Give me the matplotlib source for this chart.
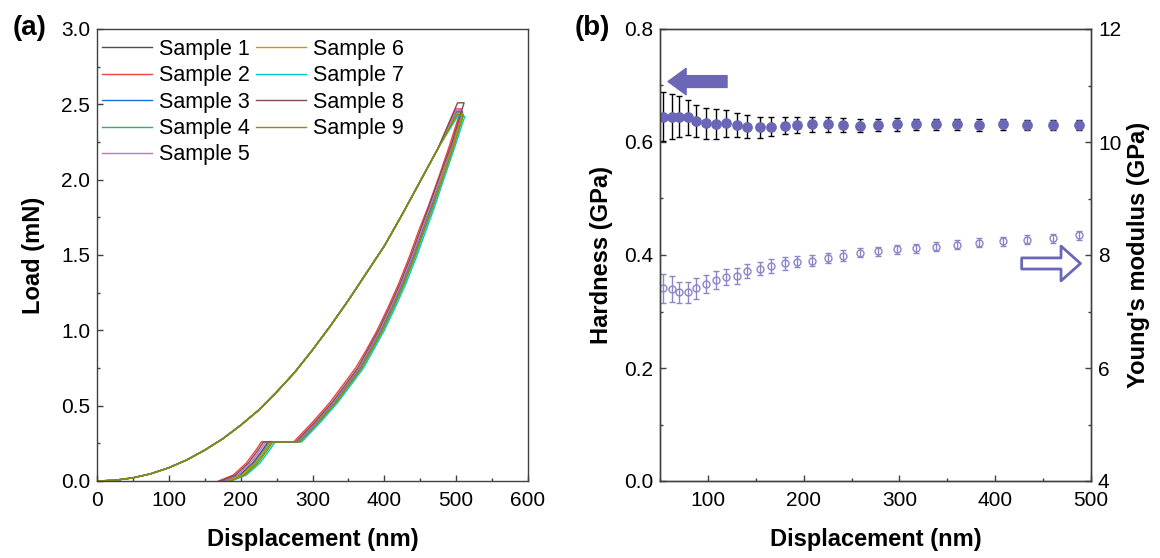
import matplotlib
matplotlib.use('Agg')
import matplotlib.pyplot as plt
from matplotlib.ticker import MultipleLocator

plt.rcParams['font.family'] = ['Liberation Sans', 'DejaVu Sans']

# ---- (a) load-displacement curves ----
samples = ['Sample %d' % i for i in range(1, 10)]
colors = ['#515151', '#F14040', '#1A6FDF', '#37AD6B', '#B177DE',
          '#CC9900', '#00CBCC', '#7D4E4E', '#8E8E00']

load_disp = [0, 25, 50, 75, 100, 125, 150, 175, 200, 225, 250, 275, 300,
             325, 350, 375, 400, 425, 450, 475]
load_val = [0, 0.005, 0.021, 0.048, 0.088, 0.14, 0.205, 0.28, 0.37, 0.47,
            0.59, 0.72, 0.87, 1.03, 1.20, 1.38, 1.56, 1.77, 1.99, 2.21]

peak_disp = [500, 499, 500, 501, 500, 501, 502, 502, 501]
hold_disp = [509, 507, 509, 510, 508, 509, 512, 511, 510]
peak_load = [2.45, 2.47, 2.44, 2.43, 2.46, 2.44, 2.42, 2.51, 2.43]

unload_levels = [2.23, 2.02, 1.82, 1.65, 1.49, 1.31, 1.15, 1.00, 0.87,
                 0.75, 0.66, 0.52, 0.39, 0.26]
unload_disp = [
    [495, 480, 465, 452, 440, 425, 410, 395, 380, 366, 352, 330, 306, 280],
    [491, 476, 461, 447, 435, 420, 405, 390, 375, 360, 346, 324, 300, 274],
    [496, 481, 466, 453, 441, 426, 411, 396, 381, 367, 353, 331, 307, 281],
    [497, 482, 468, 455, 443, 428, 413, 398, 383, 369, 355, 333, 309, 283],
    [494, 479, 464, 451, 439, 424, 409, 394, 379, 365, 351, 329, 305, 279],
    [496, 481, 467, 454, 442, 427, 412, 397, 382, 368, 354, 332, 308, 282],
    [499, 484, 470, 457, 445, 430, 415, 400, 385, 371, 357, 335, 311, 285],
    [493, 477, 462, 449, 437, 422, 407, 392, 377, 363, 349, 327, 303, 277],
    [497, 482, 467, 454, 442, 427, 412, 397, 382, 368, 354, 332, 308, 282],
]

final_levels = [0.26, 0.21, 0.12, 0.04, 0.0]
final_disp = [
    [238, 231, 217, 199, 178],
    [229, 222, 208, 190, 169],
    [240, 233, 219, 201, 180],
    [243, 236, 222, 204, 183],
    [235, 228, 214, 196, 175],
    [241, 234, 220, 202, 181],
    [248, 241, 227, 208, 187],
    [232, 225, 211, 193, 172],
    [245, 238, 224, 206, 185],
]

# ---- (b) hardness and modulus vs displacement ----
depth = [53, 63, 70, 79, 88, 98, 108, 119, 130, 141, 154, 166, 180, 193,
         209, 225, 241, 259, 278, 297, 317, 338, 360, 383, 408, 433, 460, 487]
hardness = [0.645, 0.645, 0.645, 0.644, 0.637, 0.633, 0.632, 0.633, 0.630,
            0.627, 0.626, 0.627, 0.629, 0.630, 0.631, 0.631, 0.630, 0.629,
            0.630, 0.631, 0.631, 0.631, 0.631, 0.630, 0.631, 0.630, 0.630, 0.630]
hardness_err = [0.044, 0.040, 0.037, 0.031, 0.029, 0.027, 0.026, 0.024, 0.022,
                0.020, 0.019, 0.017, 0.015, 0.014, 0.014, 0.013, 0.013, 0.012,
                0.011, 0.011, 0.010, 0.010, 0.010, 0.010, 0.010, 0.009, 0.009, 0.009]
modulus = [7.41, 7.39, 7.34, 7.34, 7.41, 7.48, 7.55, 7.61, 7.63, 7.72, 7.76,
           7.81, 7.85, 7.88, 7.90, 7.94, 7.99, 8.04, 8.07, 8.10, 8.12, 8.15,
           8.18, 8.22, 8.24, 8.27, 8.30, 8.35]
modulus_err = [0.26, 0.23, 0.19, 0.19, 0.18, 0.16, 0.16, 0.14, 0.14, 0.12,
               0.12, 0.12, 0.12, 0.10, 0.10, 0.09, 0.09, 0.08, 0.08, 0.08,
               0.08, 0.08, 0.08, 0.08, 0.08, 0.08, 0.08, 0.08]

purple = '#6b66b6'
light_purple = '#8a86c8'
spine_col = '#404040'


def style_axes(ax):
    for s in ax.spines.values():
        s.set_color(spine_col)
        s.set_linewidth(1.0)
    ax.tick_params(which='both', direction='in', colors=spine_col,
                   labelcolor='black', labelsize=15, width=1.0)
    ax.tick_params(which='major', length=4)
    ax.tick_params(which='minor', length=2.5)
    ax.tick_params(axis='x', pad=7)
    ax.tick_params(axis='y', pad=5)


fig = plt.figure(figsize=(11.6, 5.58), dpi=100)

# panel (a)
ax1 = fig.add_axes([97 / 1160, 77 / 558, 431 / 1160, 452 / 558])
for i in range(9):
    xs = load_disp + [peak_disp[i], hold_disp[i]] + unload_disp[i] + final_disp[i]
    ys = load_val + [peak_load[i], peak_load[i]] + unload_levels + final_levels
    ax1.plot(xs, ys, color=colors[i], lw=1.0, label=samples[i])
ax1.set_xlim(0, 600)
ax1.set_ylim(0, 3.0)
ax1.xaxis.set_major_locator(MultipleLocator(100))
ax1.xaxis.set_minor_locator(MultipleLocator(50))
ax1.yaxis.set_major_locator(MultipleLocator(0.5))
ax1.yaxis.set_minor_locator(MultipleLocator(0.25))
ax1.yaxis.set_major_formatter(plt.FormatStrFormatter('%.1f'))
style_axes(ax1)
ax1.tick_params(which='both', top=False, right=False)
ax1.set_xlabel('Displacement (nm)', fontsize=17, fontweight='bold')
ax1.set_ylabel('Load (mN)', fontsize=17, fontweight='bold')
ax1.xaxis.set_label_coords(0.5, -0.105)
ax1.yaxis.set_label_coords(-0.12, 0.5)
ax1.legend(loc='upper left', bbox_to_anchor=(0.012, 0.978), ncol=2,
           frameon=False, fontsize=15.5, handlelength=2.3, handletextpad=0.33,
           labelspacing=0.25, columnspacing=0.3, borderpad=0, borderaxespad=0)

# panel (b)
ax2 = fig.add_axes([660 / 1160, 77 / 558, 431 / 1160, 452 / 558])
ax2.errorbar(depth, hardness, yerr=hardness_err, fmt='o', color=purple,
             ms=6.7, mec=purple, ecolor='black', elinewidth=1.0,
             capsize=2.5, capthick=1.0)
ax2.set_xlim(50, 500)
ax2.set_ylim(0, 0.8)
ax2.xaxis.set_major_locator(MultipleLocator(100))
ax2.xaxis.set_minor_locator(MultipleLocator(50))
ax2.yaxis.set_major_locator(MultipleLocator(0.2))
ax2.yaxis.set_minor_locator(MultipleLocator(0.1))
ax2.yaxis.set_major_formatter(plt.FormatStrFormatter('%.1f'))
style_axes(ax2)
ax2.tick_params(which='both', top=False, right=False)
ax2.set_xlabel('Displacement (nm)', fontsize=17, fontweight='bold')
ax2.set_ylabel('Hardness (GPa)', fontsize=17, fontweight='bold')
ax2.xaxis.set_label_coords(0.5, -0.105)
ax2.yaxis.set_label_coords(-0.108, 0.5)

ax3 = ax2.twinx()
ax3.errorbar(depth, modulus, yerr=modulus_err, fmt='o', mfc='none',
             mec=light_purple, ms=5, mew=1.0, ecolor=light_purple,
             elinewidth=1.0, capsize=2.5, capthick=1.0)
ax3.set_ylim(4, 12)
ax3.yaxis.set_major_locator(MultipleLocator(2))
ax3.yaxis.set_minor_locator(MultipleLocator(1))
style_axes(ax3)
ax3.tick_params(which='both', top=False, left=False, right=True)
ax3.set_ylabel("Young's modulus (GPa)", fontsize=17, fontweight='bold')
ax3.yaxis.set_label_coords(1.084, 0.5)

# direction arrows
ax3.annotate('', xy=(58.4, 11.07), xytext=(120, 11.07),
             arrowprops=dict(arrowstyle='simple,head_length=1.3,head_width=1.9,tail_width=0.85',
                             mutation_scale=10, fc=purple, ec=purple,
                             shrinkA=0, shrinkB=0))
ax3.annotate('', xy=(489, 7.85), xytext=(427.6, 7.85),
             arrowprops=dict(arrowstyle='simple,head_length=1.4,head_width=2.5,tail_width=0.8',
                             mutation_scale=10, fc='white', ec=purple, lw=2,
                             shrinkA=0, shrinkB=0))

fig.text(30 / 1160, 1 - 28 / 558, '(a)', fontsize=20, fontweight='bold',
         ha='center', va='center')
fig.text(592 / 1160, 1 - 28 / 558, '(b)', fontsize=20, fontweight='bold',
         ha='center', va='center')

fig.savefig('out.png', dpi=100)
